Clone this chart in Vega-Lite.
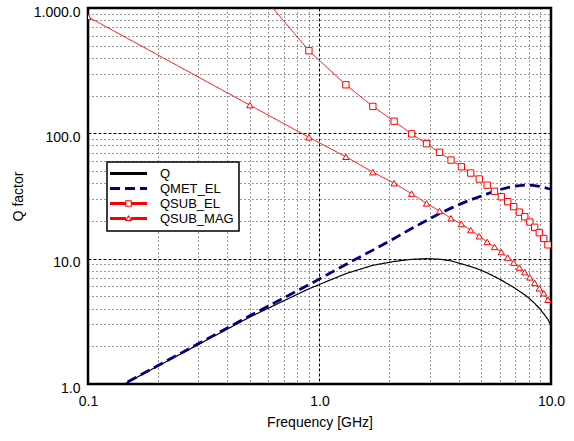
{
  "$schema": "https://vega.github.io/schema/vega-lite/v6.json",
  "width": 463,
  "height": 376,
  "autosize": {"type": "none"},
  "padding": {"left": 88, "top": 8, "right": 23, "bottom": 57},
  "background": "white",
  "config": {"font": "Liberation Sans", "view": {"stroke": "#000", "strokeWidth": 2.5}},
  "datasets": {
    "curves": [
      {"f": 0.1, "series": "Q", "q": 0.7}, {"f": 0.5, "series": "Q", "q": 3.42}, {"f": 0.9, "series": "Q", "q": 5.75}, {"f": 1.3, "series": "Q", "q": 7.6}, {"f": 1.7, "series": "Q", "q": 8.85}, {"f": 2.1, "series": "Q", "q": 9.5}, {"f": 2.5, "series": "Q", "q": 9.88}, {"f": 2.9, "series": "Q", "q": 10.0}, {"f": 3.3, "series": "Q", "q": 9.9}, {"f": 3.7, "series": "Q", "q": 9.6}, {"f": 4.1, "series": "Q", "q": 9.1}, {"f": 4.5, "series": "Q", "q": 8.65}, {"f": 4.9, "series": "Q", "q": 8.2}, {"f": 5.3, "series": "Q", "q": 7.7}, {"f": 5.7, "series": "Q", "q": 7.2}, {"f": 6.1, "series": "Q", "q": 6.75}, {"f": 6.5, "series": "Q", "q": 6.3}, {"f": 6.9, "series": "Q", "q": 5.9}, {"f": 7.3, "series": "Q", "q": 5.5}, {"f": 7.7, "series": "Q", "q": 5.15}, {"f": 8.1, "series": "Q", "q": 4.77}, {"f": 8.5, "series": "Q", "q": 4.4}, {"f": 8.9, "series": "Q", "q": 4.02}, {"f": 9.3, "series": "Q", "q": 3.64}, {"f": 9.7, "series": "Q", "q": 3.27}, {"f": 10.0, "series": "Q", "q": 2.95},
      {"f": 0.1, "series": "QMET_EL", "q": 0.7}, {"f": 0.5, "series": "QMET_EL", "q": 3.5}, {"f": 0.9, "series": "QMET_EL", "q": 6.2}, {"f": 1.3, "series": "QMET_EL", "q": 9.0}, {"f": 1.7, "series": "QMET_EL", "q": 11.7}, {"f": 2.1, "series": "QMET_EL", "q": 14.5}, {"f": 2.5, "series": "QMET_EL", "q": 17.4}, {"f": 2.9, "series": "QMET_EL", "q": 20.2}, {"f": 3.3, "series": "QMET_EL", "q": 22.9}, {"f": 3.7, "series": "QMET_EL", "q": 25.3}, {"f": 4.1, "series": "QMET_EL", "q": 27.5}, {"f": 4.5, "series": "QMET_EL", "q": 29.5}, {"f": 4.9, "series": "QMET_EL", "q": 31.2}, {"f": 5.3, "series": "QMET_EL", "q": 32.9}, {"f": 5.7, "series": "QMET_EL", "q": 34.5}, {"f": 6.1, "series": "QMET_EL", "q": 35.8}, {"f": 6.5, "series": "QMET_EL", "q": 36.9}, {"f": 6.9, "series": "QMET_EL", "q": 37.7}, {"f": 7.3, "series": "QMET_EL", "q": 38.3}, {"f": 7.7, "series": "QMET_EL", "q": 38.6}, {"f": 8.1, "series": "QMET_EL", "q": 38.6}, {"f": 8.5, "series": "QMET_EL", "q": 38.3}, {"f": 8.9, "series": "QMET_EL", "q": 37.8}, {"f": 9.3, "series": "QMET_EL", "q": 37.1}, {"f": 9.7, "series": "QMET_EL", "q": 36.3}, {"f": 10.0, "series": "QMET_EL", "q": 35.8},
      {"f": 0.5, "series": "QSUB_EL", "q": 1650}, {"f": 0.9, "series": "QSUB_EL", "q": 456}, {"f": 1.3, "series": "QSUB_EL", "q": 244}, {"f": 1.7, "series": "QSUB_EL", "q": 164}, {"f": 2.1, "series": "QSUB_EL", "q": 125}, {"f": 2.5, "series": "QSUB_EL", "q": 99}, {"f": 2.9, "series": "QSUB_EL", "q": 82.6}, {"f": 3.3, "series": "QSUB_EL", "q": 70.5}, {"f": 3.7, "series": "QSUB_EL", "q": 61.2}, {"f": 4.1, "series": "QSUB_EL", "q": 54.1}, {"f": 4.5, "series": "QSUB_EL", "q": 48.2}, {"f": 4.9, "series": "QSUB_EL", "q": 43.2}, {"f": 5.3, "series": "QSUB_EL", "q": 38.6}, {"f": 5.7, "series": "QSUB_EL", "q": 34.5}, {"f": 6.1, "series": "QSUB_EL", "q": 31.2}, {"f": 6.5, "series": "QSUB_EL", "q": 28.5}, {"f": 6.9, "series": "QSUB_EL", "q": 26.0}, {"f": 7.3, "series": "QSUB_EL", "q": 23.5}, {"f": 7.7, "series": "QSUB_EL", "q": 21.6}, {"f": 8.1, "series": "QSUB_EL", "q": 19.6}, {"f": 8.5, "series": "QSUB_EL", "q": 17.8}, {"f": 8.9, "series": "QSUB_EL", "q": 16.1}, {"f": 9.3, "series": "QSUB_EL", "q": 14.5}, {"f": 9.7, "series": "QSUB_EL", "q": 12.9},
      {"f": 0.1, "series": "QSUB_MAG", "q": 850}, {"f": 0.5, "series": "QSUB_MAG", "q": 168}, {"f": 0.9, "series": "QSUB_MAG", "q": 93}, {"f": 1.3, "series": "QSUB_MAG", "q": 65}, {"f": 1.7, "series": "QSUB_MAG", "q": 49}, {"f": 2.1, "series": "QSUB_MAG", "q": 40}, {"f": 2.5, "series": "QSUB_MAG", "q": 33}, {"f": 2.9, "series": "QSUB_MAG", "q": 27.6}, {"f": 3.3, "series": "QSUB_MAG", "q": 24.0}, {"f": 3.7, "series": "QSUB_MAG", "q": 21.0}, {"f": 4.1, "series": "QSUB_MAG", "q": 18.9}, {"f": 4.5, "series": "QSUB_MAG", "q": 16.9}, {"f": 4.9, "series": "QSUB_MAG", "q": 15.1}, {"f": 5.3, "series": "QSUB_MAG", "q": 13.6}, {"f": 5.7, "series": "QSUB_MAG", "q": 12.4}, {"f": 6.1, "series": "QSUB_MAG", "q": 11.3}, {"f": 6.5, "series": "QSUB_MAG", "q": 10.2}, {"f": 6.9, "series": "QSUB_MAG", "q": 9.3}, {"f": 7.3, "series": "QSUB_MAG", "q": 8.5}, {"f": 7.7, "series": "QSUB_MAG", "q": 7.8}, {"f": 8.1, "series": "QSUB_MAG", "q": 7.1}, {"f": 8.5, "series": "QSUB_MAG", "q": 6.4}, {"f": 8.9, "series": "QSUB_MAG", "q": 5.8}, {"f": 9.3, "series": "QSUB_MAG", "q": 5.3}, {"f": 9.7, "series": "QSUB_MAG", "q": 4.7}
    ]
  },
  "data": {"name": "curves"},
  "layer": [
    {
      "mark": {"type": "line", "clip": true},
      "encoding": {
        "x": {
          "field": "f", "type": "quantitative",
          "scale": {"type": "log", "domain": [0.1, 10], "nice": false},
          "axis": {
            "values": [0.1, 0.2, 0.3, 0.4, 0.5, 0.6, 0.7, 0.8, 0.9, 1, 2, 3, 4, 5, 6, 7, 8, 9, 10],
            "labelExpr": "datum.value==0.1?'0.1':datum.value==1?'1.0':datum.value==10?'10.0':''",
            "grid": true,
            "gridColor": {"condition": {"test": "datum.value==0.1||datum.value==1||datum.value==10", "value": "#000"}, "value": "#333"},
            "gridDash": {"condition": {"test": "datum.value==0.1||datum.value==1||datum.value==10", "value": [3, 2]}, "value": [1, 3]},
            "gridWidth": 1,
            "ticks": false, "domain": false,
            "labelFlush": false, "labelOverlap": false,
            "labelFontSize": 14, "labelColor": "#000", "labelPadding": 10,
            "title": "Frequency [GHz]", "titleFontSize": 14, "titleFontWeight": "normal", "titleColor": "#000", "titlePadding": 7
          }
        },
        "y": {
          "field": "q", "type": "quantitative",
          "scale": {"type": "log", "domain": [1, 1000], "nice": false},
          "axis": {
            "values": [1, 2, 3, 4, 5, 6, 7, 8, 9, 10, 20, 30, 40, 50, 60, 70, 80, 90, 100, 200, 300, 400, 500, 600, 700, 800, 900, 1000],
            "labelExpr": "datum.value==1000?'1.000.0':datum.value==100?'100.0':datum.value==10?'10.0':datum.value==1?'1.0':''",
            "grid": true,
            "gridColor": {"condition": {"test": "datum.value==1||datum.value==10||datum.value==100||datum.value==1000", "value": "#000"}, "value": "#333"},
            "gridDash": {"condition": {"test": "datum.value==1||datum.value==10||datum.value==100||datum.value==1000", "value": [3, 2]}, "value": [1, 3]},
            "gridWidth": 1,
            "ticks": false, "domain": false,
            "labelOverlap": false,
            "labelFontSize": 14, "labelColor": "#000", "labelPadding": 8, "labelOffset": 4,
            "title": "Q factor", "titleFontSize": 14, "titleFontWeight": "normal", "titleColor": "#000", "titlePadding": 8
          }
        },
        "color": {
          "field": "series", "type": "nominal",
          "scale": {"domain": ["Q", "QMET_EL", "QSUB_EL", "QSUB_MAG"], "range": ["#000000", "#000080", "#ff0000", "#ff0000"]},
          "legend": {
            "title": null, "orient": "none", "legendX": 19, "legendY": 154,
            "fillColor": "white", "strokeColor": "#000", "padding": 5,
            "symbolSize": 144, "symbolStrokeWidth": 3, "symbolOffset": 10, "labelOffset": 25,
            "labelFontSize": 13, "labelColor": "#000", "rowPadding": 1,
            "encode": {
              "legend": {"update": {"strokeWidth": {"value": 1.5}}},
              "symbols": {
                "update": {
                  "shape": {"signal": "datum.value=='QSUB_EL'?'M-3.08,-0.25H-0.53V0.25H-3.08ZM0.53,-0.25H3.08V0.25H0.53ZM-0.53,-0.53H0.53V0.53H-0.53ZM-0.37,-0.37V0.37H0.37V-0.37Z':datum.value=='QSUB_MAG'?'M-3.08,-0.25H-0.43V0.25H-3.08ZM0.43,-0.25H3.08V0.25H0.43ZM0,-0.6L0.6,0.43H-0.6ZM0,-0.27L-0.31,0.27H0.31Z':'M-3.08,0H3.08'"},
                  "fill": {"signal": "datum.value=='QSUB_EL'||datum.value=='QSUB_MAG'?'#ff0000':'transparent'"},
                  "strokeWidth": {"signal": "datum.value=='QSUB_EL'||datum.value=='QSUB_MAG'?0:3"}
                }
              }
            }
          }
        },
        "strokeDash": {
          "field": "series", "type": "nominal",
          "scale": {"domain": ["Q", "QMET_EL", "QSUB_EL", "QSUB_MAG"], "range": [[1, 0], [10, 5], [1, 0], [1, 0]]}
        },
        "strokeWidth": {
          "condition": [
            {"test": "datum.series=='QMET_EL'", "value": 2.8},
            {"test": "datum.series=='Q'", "value": 1.2}
          ],
          "value": 1
        }
      }
    },
    {
      "transform": [{"filter": "datum.series=='QSUB_EL'||datum.series=='QSUB_MAG'"}],
      "mark": {"type": "point", "clip": true, "filled": true, "fill": "white", "stroke": "#ff0000", "strokeWidth": 1, "size": 40, "opacity": 1},
      "encoding": {
        "x": {"field": "f", "type": "quantitative"},
        "y": {"field": "q", "type": "quantitative"},
        "shape": {
          "field": "series", "type": "nominal",
          "scale": {"domain": ["QSUB_EL", "QSUB_MAG"], "range": ["square", "triangle-up"]},
          "legend": null
        }
      }
    }
  ]
}
